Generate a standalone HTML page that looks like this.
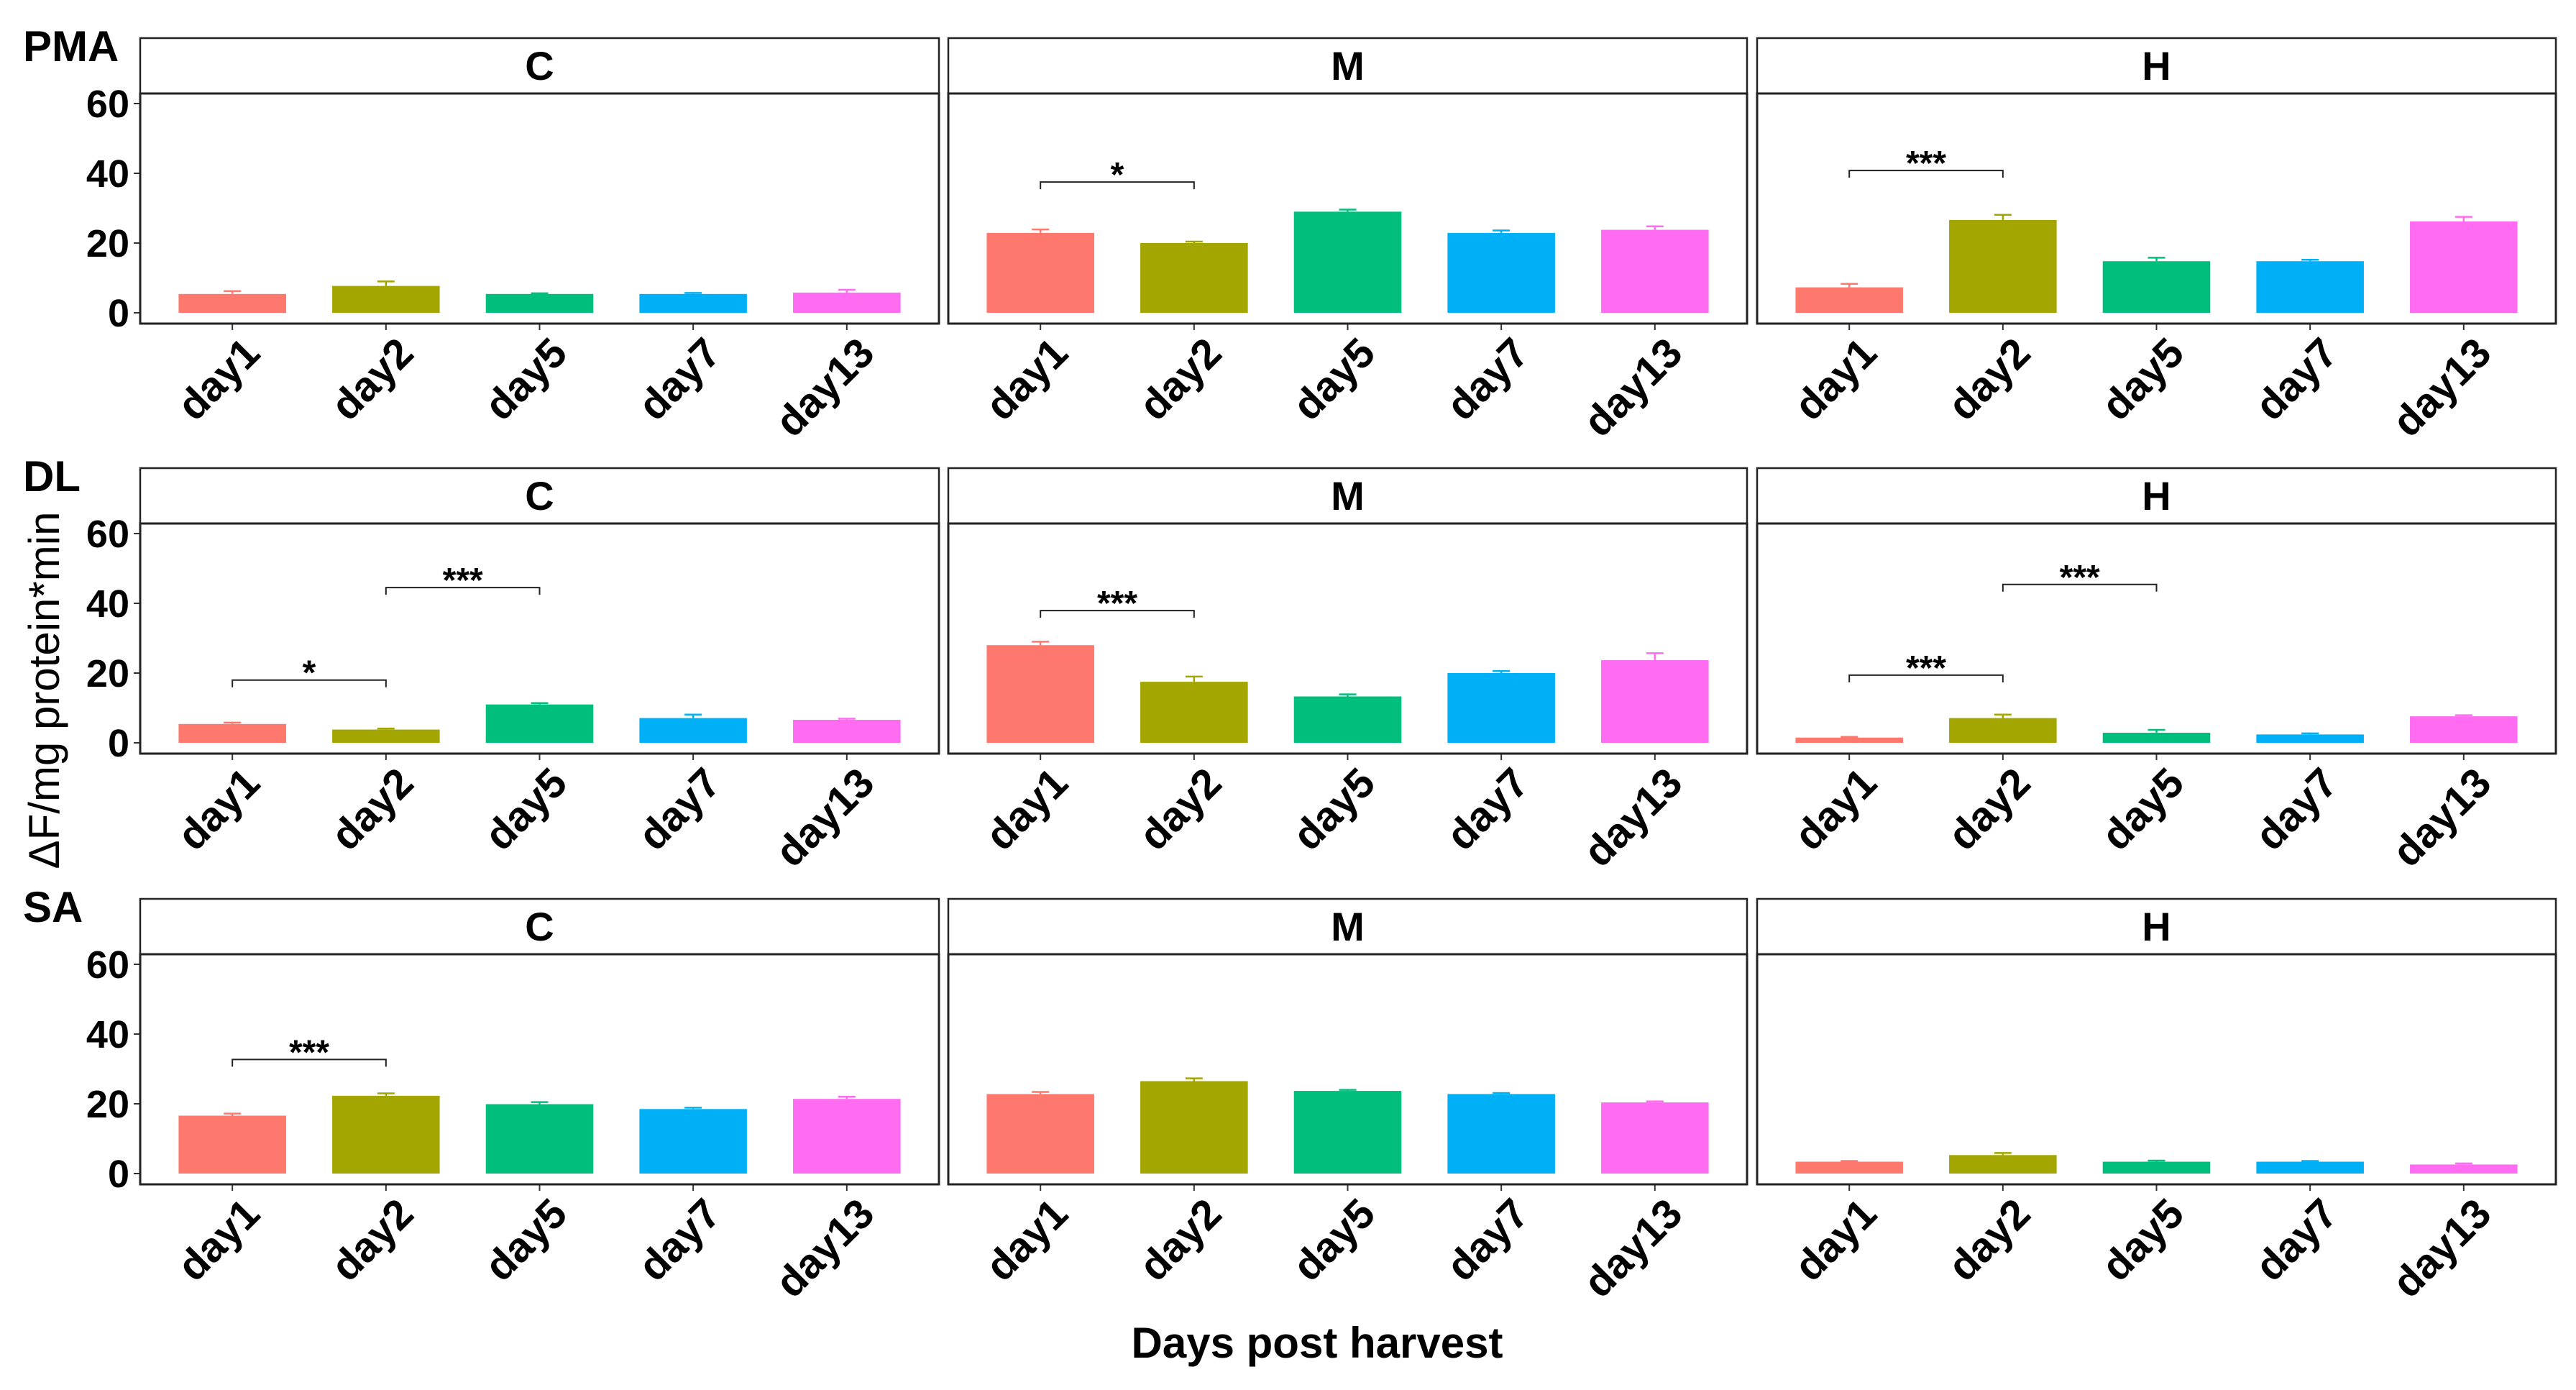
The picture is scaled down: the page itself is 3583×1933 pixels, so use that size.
<!DOCTYPE html>
<html><head><meta charset="utf-8"><style>
html,body{margin:0;padding:0;background:#fff;}
svg{display:block;font-family:"Liberation Sans",sans-serif;}
</style></head><body>
<svg id="chart" width="3583" height="1933" viewBox="0 0 3583 1933" xmlns="http://www.w3.org/2000/svg">
<text x="0" y="0" transform="translate(82,960) rotate(-90)" text-anchor="middle" font-size="60">ΔF/mg protein*min</text>
<text x="1832" y="1888" text-anchor="middle" font-size="60" font-weight="bold">Days post harvest</text>
</svg>
<script>
const categories = ["day1","day2","day5","day7","day13"];
const rowNames = ["PMA","DL","SA"];
const colNames = ["C","M","H"];
const yTicks = [0,20,40,60];
const colors = ["#FF786E","#A3A500","#00BF7D","#00B0F6","#FF6CF2"];
const pmaC = [5.4,7.7,5.4,5.4,5.8];
const pmaM = [22.9,20.0,29.0,22.9,23.8];
const pmaH = [7.3,26.6,14.8,14.8,26.2];
const dlC = [5.4,3.8,11.0,7.1,6.6];
const dlM = [28.0,17.5,13.3,20.0,23.7];
const dlH = [1.5,7.1,2.9,2.4,7.6];
const saC = [16.6,22.3,19.9,18.5,21.4];
const saM = [22.8,26.5,23.7,22.8,20.4];
const saH = [3.4,5.3,3.4,3.4,2.6];
const errPmaC = [0.8,1.3,0.2,0.3,0.8];
const errPmaM = [1.0,0.4,0.6,0.7,1.0];
const errPmaH = [1.0,1.5,1.0,0.4,1.3];
const errDlC = [0.4,0.3,0.4,1.0,0.3];
const errDlM = [1.0,1.5,0.6,0.6,2.0];
const errDlH = [0.2,1.0,0.8,0.3,0.3];
const errSaC = [0.6,0.7,0.6,0.4,0.6];
const errSaM = [0.6,0.8,0.3,0.3,0.3];
const errSaH = [0.2,0.6,0.3,0.2,0.3];
const values = [[pmaC,pmaM,pmaH],[dlC,dlM,dlH],[saC,saM,saH]];
const errors = [[errPmaC,errPmaM,errPmaH],[errDlC,errDlM,errDlH],[errSaC,errSaM,errSaH]];
const sigRow = [0,0,1,1,1,1,1,2];
const sigCol = [1,2,0,0,1,2,2,0];
const sigFrom = [0,0,0,1,0,0,1,0];
const sigTo = [1,1,1,2,1,1,2,1];
const sigY = [37.5,40.8,18.0,44.5,37.9,19.4,45.4,32.7];
const sigLabel = ["*","***","*","***","***","***","***","***"];

const NS="http://www.w3.org/2000/svg";
const svg=document.getElementById('chart');
const rowTops=[53,651,1250];
const colLefts=[195,1319,2444];
const PW=1111, STRIP=77;
function mk(tag,attrs,parent){const e=document.createElementNS(NS,tag);for(const k in attrs)e.setAttribute(k,attrs[k]);(parent||svg).appendChild(e);return e;}
function yScale(r,v){const y0=rowTops[r]+382, y60=rowTops[r]+91;return y0-(v/60)*(y0-y60);}
function xScale(c,i){const step=PW/5.2;return colLefts[c]+step*(0.6+i);}
const step=PW/5.2, bw=step*0.7;

for(let r=0;r<3;r++){
  const rl=mk('text',{x:32,y:rowTops[r]+32,'font-size':60,'font-weight':'bold'});
  
  
  rl.textContent=rowNames[r];
  for(const t of yTicks){
    const y=yScale(r,t);
    const tl=mk('text',{x:180,y:y+19,'text-anchor':'end','font-size':54,'font-weight':'bold'});
    
    
    tl.textContent=t;
    const tk=mk('line',{x1:186,x2:195,y1:y,y2:y,stroke:'#333','stroke-width':2});
    
    
  }
  for(let c=0;c<3;c++){
    const L=colLefts[c], T=rowTops[r];
    const g=mk('g',{});
    
    
    const strip=mk('rect',{x:L,y:T,width:PW,height:STRIP,fill:'#fff',stroke:'#222','stroke-width':2.5},g);
    
    
    const st=mk('text',{x:L+PW/2,y:T+58,'text-anchor':'middle','font-size':56,'font-weight':'bold'},g);
    
    
    st.textContent=colNames[c];
    const vals=values[r][c], errs=errors[r][c];
    for(let i=0;i<5;i++){
      const cx=xScale(c,i), yt=yScale(r,vals[i]), yb=yScale(r,0);
      const e=yScale(r,vals[i]+errs[i]);
      const eb=mk('path',{d:`M${cx-12},${e}H${cx+12}M${cx},${e}V${yt}`,stroke:colors[i],'stroke-width':2.5,fill:'none'},g);
      
      
      const b=mk('rect',{x:cx-bw/2,y:yt,width:bw,height:yb-yt,fill:colors[i]},g);
      
      
      const tk=mk('line',{x1:cx,x2:cx,y1:T+397,y2:T+406,stroke:'#333','stroke-width':2},g);
      
      
      const ax=cx+12, ay=T+412;
      const xl=mk('text',{x:ax,y:ay,'text-anchor':'end','dominant-baseline':'hanging','font-size':58,'font-weight':'bold',transform:`rotate(-45 ${ax} ${ay})`},g);
      
      
      xl.textContent=categories[i];
    }
    const frame=mk('rect',{x:L,y:T+STRIP,width:PW,height:397-STRIP,fill:'none',stroke:'#222','stroke-width':3},g);
    
    
  }
}
for(let k=0;k<sigY.length;k++){
  const r=sigRow[k],c=sigCol[k];
  const x1=xScale(c,sigFrom[k]), x2=xScale(c,sigTo[k]), y=yScale(r,sigY[k]);
  const br=mk('path',{d:`M${x1},${y+10}V${y}H${x2}V${y+10}`,stroke:'#222','stroke-width':2,fill:'none'});
  
  
  const sl=mk('text',{x:(x1+x2)/2,y:y+6,'text-anchor':'middle','font-size':48,'font-weight':'bold'});
  
  
  sl.textContent=sigLabel[k];
}
</script>
</body></html>
